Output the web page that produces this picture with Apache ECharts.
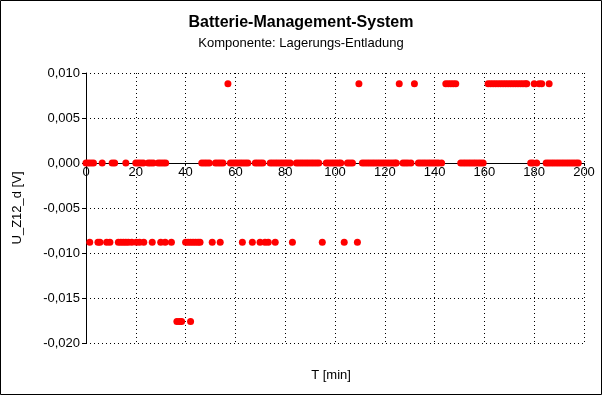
<!DOCTYPE html>
<html>
<head>
<meta charset="utf-8">
<script src="https://cdn.jsdelivr.net/npm/echarts@6/dist/echarts.min.js"></script>
<style>
html,body{margin:0;padding:0;background:#fff;}
#c{width:602px;height:395px;}
</style>
</head>
<body>
<div id="c"></div>
<script>
// Measured levels (V)
const levels = [0.0088, 0, -0.0088, -0.0176];
// Time stamps (min) at which each level was recorded
const tTop = [57, 109.6, 125.8, 131.9, 144.5, 145.5, 146.5, 147.5, 148.5,
  161.5, 162.5, 163.5, 164.5, 165.5, 166.5, 167.5, 168.5, 169.5, 170.5, 171.5, 172.5, 173.5, 174.5, 175.5, 176.5, 177,
  180, 182, 183, 186];
const tZero = [0, 1, 2, 3, 6.5, 10.5, 11.5, 16,
  20, 21, 22, 23, 25, 26, 27, 29, 30, 31, 32,
  46.5, 47.5, 48.5, 49.5, 52, 53, 54, 55, 58, 59, 60, 61, 62, 63, 64, 65, 68, 69, 70, 71, 74, 75, 76, 77, 78, 79, 80, 81, 82,
  84.5, 85.5, 86.5, 87.5, 88.5, 89.5, 90.5, 91.5, 92.5, 93.5, 96.5, 97.5, 98.5, 99.5, 100.5, 101.5, 102.3, 105, 106, 107,
  111, 112, 113, 114, 115, 116, 117, 118, 119, 120, 121, 122, 123, 124, 124.6, 127.3, 128.3, 129.3, 130.5,
  133.5, 134.5, 135.5, 136.5, 137.5, 138.5, 139.5, 140.5, 141.5, 142.8,
  150.5, 151.5, 152.5, 153.5, 154.5, 155.5, 156.5, 157.5, 158.5, 159.5,
  178.6, 179.5, 181, 184.8, 185.8, 186.8, 187.8, 188.8, 189.8, 190.8, 191.8, 192.8, 193.8, 194.8, 195.8, 196.8, 197.7];
const tNeg = [1.5, 4.8, 5.6, 8.3, 9.6, 13, 14, 15, 16, 17, 18.4, 20.2, 21.5, 23.2, 26.6, 30, 31.8, 34.3,
  40, 41, 42, 43, 44, 45, 45.8, 50.7, 53.9, 62.8, 66.8, 69.9, 71.9, 73.2, 76, 82.9, 94.9, 103.7, 109];
const tNeg2 = [36.5, 37.5, 38.4, 42];
const xTicks = [0, 20, 40, 60, 80, 100, 120, 140, 160, 180, 200];
const yTicks = [-0.02, -0.015, -0.01, -0.005, 0, 0.005, 0.01];

const groups = [tTop, tZero, tNeg, tNeg2];
const pts = [];
groups.forEach((ts, i) => ts.forEach(t => pts.push([t, levels[i]])));

const font = 'Arial, "Liberation Sans", sans-serif';
const chart = echarts.init(document.getElementById('c'), null, {renderer: 'canvas'});
chart.setOption({
  animation: false,
  backgroundColor: '#fff',
  title: [
    {text: 'Batterie-Management-System', left: 'center', top: 10,
     textStyle: {fontFamily: font, fontSize: 16, fontWeight: 'bold', color: '#000'}},
    {text: 'Komponente: Lagerungs-Entladung', left: 'center', top: 32,
     textStyle: {fontFamily: font, fontSize: 13, fontWeight: 'normal', color: '#000'}}
  ],
  grid: {left: 86, right: 18, top: 73, bottom: 52, containLabel: false},
  xAxis: {
    type: 'value', min: xTicks[0], max: xTicks[xTicks.length - 1], interval: 20,
    position: 'bottom', offset: -180,
    axisLine: {show: true, onZero: false, lineStyle: {color: '#000', width: 1}},
    axisTick: {show: true, inside: false, length: 3, lineStyle: {color: '#000'}},
    axisLabel: {margin: 3, fontFamily: font, fontSize: 13, color: '#000'},
    splitLine: {show: true, lineStyle: {color: '#000', width: 1, type: [1, 3]}}
  },
  yAxis: {
    type: 'value', min: yTicks[0], max: yTicks[yTicks.length - 1], interval: 0.005,
    name: 'U_Z12_d [V]', nameLocation: 'middle', nameGap: 62, nameRotate: 90,
    nameTextStyle: {fontFamily: font, fontSize: 13, color: '#000'},
    axisLine: {show: true, onZero: false, lineStyle: {color: '#000', width: 1}},
    axisTick: {show: true, inside: false, length: 4, lineStyle: {color: '#000'}},
    axisLabel: {margin: 6, fontFamily: font, fontSize: 13, color: '#000',
      formatter: v => (Math.abs(v) < 1e-9 ? 0 : v).toFixed(3).replace('.', ',')},
    splitLine: {show: true, lineStyle: {color: '#000', width: 1, type: [1, 3]}}
  },
  graphic: [
    {type: 'text', x: 331, y: 375,
     style: {text: 'T [min]', textAlign: 'center', textVerticalAlign: 'middle',
       font: '13px ' + font, fill: '#000'}},
    {type: 'rect', shape: {x: 0.5, y: 0.5, width: 601, height: 394}, silent: true,
     style: {fill: 'none', stroke: '#000', lineWidth: 1}, z: 100}
  ],
  series: [{
    type: 'scatter', data: pts, symbol: 'circle', symbolSize: 7,
    itemStyle: {color: '#ff0000', opacity: 1}, z: 5
  }]
});
</script>
</body>
</html>
